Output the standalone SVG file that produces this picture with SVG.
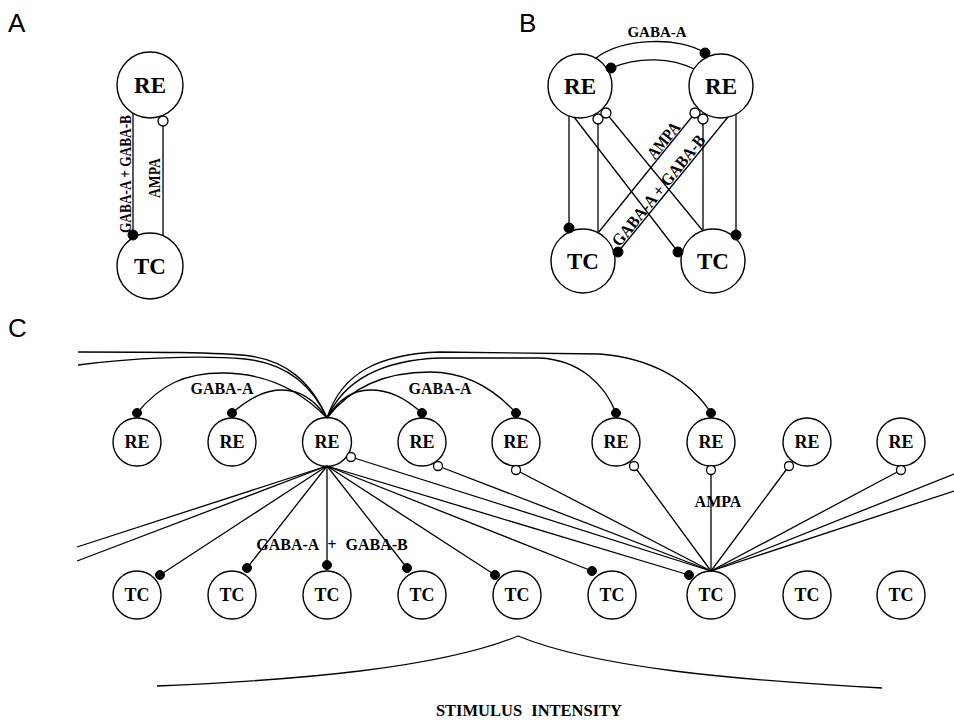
<svg xmlns="http://www.w3.org/2000/svg" width="954" height="720" viewBox="0 0 954 720">
<style>
.node circle{fill:#fff;stroke:#000;stroke-width:1.4}
.t{font-family:"Liberation Serif","Times New Roman",serif;font-weight:bold;text-anchor:middle;fill:#000}
.big{font-size:23px}
.sm{font-size:18px}
.lab{font-size:16px}
.rl{font-size:15px}
.rr{font-size:17px}
.letter{font-family:"Liberation Sans",Arial,sans-serif;font-size:26px;fill:#000}
#connectors path,#connectors line,#stimulus path{fill:none;stroke:#000;stroke-width:1.3}
.fd{fill:#000;stroke:#000;stroke-width:1}
.od{fill:#fff;stroke:#000;stroke-width:1.3}
</style>
<rect width="954" height="720" fill="#fff"/>

<g id="panel-letters">
<text class="letter" x="8" y="32">A</text>
<text class="letter" x="519" y="32">B</text>
<text class="letter" x="8" y="337">C</text>
</g>

<!-- Panel A nodes -->
<g id="A-RE" class="node"><circle cx="150" cy="85" r="33"/><text class="t big" x="150" y="93">RE</text></g>
<g id="A-TC" class="node"><circle cx="150" cy="266" r="33"/><text class="t big" x="150" y="274">TC</text></g>

<!-- Panel B nodes -->
<g id="B-RE1" class="node"><circle cx="580" cy="86" r="32"/><text class="t big" x="580" y="94">RE</text></g>
<g id="B-RE2" class="node"><circle cx="721" cy="86" r="32"/><text class="t big" x="721" y="94">RE</text></g>
<g id="B-TC1" class="node"><circle cx="583" cy="261" r="32"/><text class="t big" x="583" y="269">TC</text></g>
<g id="B-TC2" class="node"><circle cx="713" cy="261" r="32"/><text class="t big" x="713" y="269">TC</text></g>

<!-- Panel C nodes -->
<g id="C-RE1" class="node"><circle cx="137" cy="442" r="24"/><text class="t sm" x="137" y="448">RE</text></g>
<g id="C-RE2" class="node"><circle cx="232" cy="442" r="24"/><text class="t sm" x="232" y="448">RE</text></g>
<g id="C-RE3" class="node"><circle cx="327" cy="442" r="24.5"/><text class="t sm" x="327" y="448">RE</text></g>
<g id="C-RE4" class="node"><circle cx="422" cy="442" r="24"/><text class="t sm" x="422" y="448">RE</text></g>
<g id="C-RE5" class="node"><circle cx="516" cy="442" r="24"/><text class="t sm" x="516" y="448">RE</text></g>
<g id="C-RE6" class="node"><circle cx="616" cy="442" r="24"/><text class="t sm" x="616" y="448">RE</text></g>
<g id="C-RE7" class="node"><circle cx="711" cy="442" r="24"/><text class="t sm" x="711" y="448">RE</text></g>
<g id="C-RE8" class="node"><circle cx="807" cy="442" r="24"/><text class="t sm" x="807" y="448">RE</text></g>
<g id="C-RE9" class="node"><circle cx="901" cy="442" r="24"/><text class="t sm" x="901" y="448">RE</text></g>

<g id="C-TC1" class="node"><circle cx="137" cy="595" r="24"/><text class="t sm" x="137" y="601">TC</text></g>
<g id="C-TC2" class="node"><circle cx="232" cy="595" r="24"/><text class="t sm" x="232" y="601">TC</text></g>
<g id="C-TC3" class="node"><circle cx="327" cy="595" r="24"/><text class="t sm" x="327" y="601">TC</text></g>
<g id="C-TC4" class="node"><circle cx="422" cy="595" r="24"/><text class="t sm" x="422" y="601">TC</text></g>
<g id="C-TC5" class="node"><circle cx="517" cy="595" r="24"/><text class="t sm" x="517" y="601">TC</text></g>
<g id="C-TC6" class="node"><circle cx="612" cy="595" r="24"/><text class="t sm" x="612" y="601">TC</text></g>
<g id="C-TC7" class="node"><circle cx="711" cy="595" r="24"/><text class="t sm" x="711" y="601">TC</text></g>
<g id="C-TC8" class="node"><circle cx="807" cy="595" r="24"/><text class="t sm" x="807" y="601">TC</text></g>
<g id="C-TC9" class="node"><circle cx="901" cy="595" r="24"/><text class="t sm" x="901" y="601">TC</text></g>

<g id="connectors">
<!-- A -->
<line x1="133" y1="113" x2="133" y2="235"/>
<line x1="163" y1="121" x2="163" y2="236"/>
<!-- B -->
<path d="M596,58 C622,38 680,36 705,53"/>
<path d="M694,69 C672,58 640,56 611,68"/>
<line x1="569" y1="116" x2="569" y2="228"/>
<line x1="598" y1="233" x2="598" y2="119"/>
<line x1="574" y1="117" x2="678" y2="252"/>
<line x1="703" y1="231" x2="606" y2="113"/>
<line x1="728" y1="117" x2="618" y2="252"/>
<line x1="598" y1="233" x2="695" y2="113"/>
<line x1="703" y1="231" x2="703" y2="119"/>
<line x1="736" y1="114" x2="736" y2="235"/>
<!-- C: RE3 to other RE (GABA-A) -->
<path d="M327,418 C300,390 265,373 222,373 C185,373 160,385 137,413"/>
<path d="M327,418 C315,400 300,390 282,390 C265,390 250,398 232,413"/>
<path d="M327,418 C310,380 285,361 250,356 C220,352 150,352 78,352"/>
<path d="M327,418 C312,385 285,363 245,359 C200,355 130,358 78,365"/>
<path d="M327,418 C338,400 352,390 370,390 C390,390 405,398 422,413"/>
<path d="M327,418 C350,388 385,372 430,372 C468,372 495,390 516,413"/>
<path d="M327,418 C345,378 385,360 440,358 L540,358 C580,360 605,385 616,413"/>
<path d="M327,418 C342,372 380,354 440,352 L600,354 C650,358 690,380 711,413"/>
<!-- C: RE3 to TC (GABA-A + GABA-B) -->
<line x1="327" y1="466" x2="77" y2="547"/>
<line x1="327" y1="466" x2="77" y2="561"/>
<line x1="327" y1="466" x2="160" y2="575"/>
<line x1="327" y1="466" x2="247" y2="568"/>
<line x1="327" y1="466" x2="327" y2="565"/>
<line x1="327" y1="466" x2="407" y2="568"/>
<line x1="327" y1="466" x2="495" y2="575"/>
<line x1="327" y1="466" x2="592" y2="571"/>
<line x1="327" y1="466" x2="689" y2="575"/>
<!-- C: TC7 to RE (AMPA) -->
<line x1="711" y1="571" x2="351" y2="457"/>
<line x1="711" y1="571" x2="438" y2="466"/>
<line x1="711" y1="571" x2="516" y2="470"/>
<line x1="711" y1="571" x2="634" y2="466"/>
<line x1="711" y1="571" x2="711" y2="470"/>
<line x1="711" y1="571" x2="789" y2="466"/>
<line x1="711" y1="571" x2="901" y2="470"/>
<line x1="711" y1="571" x2="954" y2="474"/>
<line x1="711" y1="571" x2="954" y2="491"/>

<!-- synapse markers -->
<circle class="fd" cx="133" cy="235" r="5"/>
<circle class="od" cx="163" cy="121" r="5"/>

<circle class="fd" cx="705" cy="53" r="5"/>
<circle class="fd" cx="611" cy="68" r="5"/>
<circle class="fd" cx="569" cy="228" r="5"/>
<circle class="fd" cx="678" cy="252" r="5"/>
<circle class="fd" cx="618" cy="252" r="5"/>
<circle class="fd" cx="736" cy="235" r="5"/>
<circle class="od" cx="598" cy="119" r="5"/>
<circle class="od" cx="606" cy="113" r="5"/>
<circle class="od" cx="695" cy="113" r="5"/>
<circle class="od" cx="703" cy="119" r="5"/>

<circle class="fd" cx="137" cy="413" r="4.5"/>
<circle class="fd" cx="232" cy="413" r="4.5"/>
<circle class="fd" cx="422" cy="413" r="4.5"/>
<circle class="fd" cx="516" cy="413" r="4.5"/>
<circle class="fd" cx="616" cy="413" r="4.5"/>
<circle class="fd" cx="711" cy="413" r="4.5"/>

<circle class="fd" cx="160" cy="575" r="4.5"/>
<circle class="fd" cx="247" cy="568" r="4.5"/>
<circle class="fd" cx="327" cy="565" r="4.5"/>
<circle class="fd" cx="407" cy="568" r="4.5"/>
<circle class="fd" cx="495" cy="575" r="4.5"/>
<circle class="fd" cx="592" cy="571" r="4.5"/>
<circle class="fd" cx="689" cy="575" r="4.5"/>

<circle class="od" cx="351" cy="457" r="4.5"/>
<circle class="od" cx="438" cy="466" r="4.5"/>
<circle class="od" cx="516" cy="470" r="4.5"/>
<circle class="od" cx="634" cy="466" r="4.5"/>
<circle class="od" cx="711" cy="470" r="4.5"/>
<circle class="od" cx="789" cy="466" r="4.5"/>
<circle class="od" cx="901" cy="470" r="4.5"/>
</g>

<g id="labels">
<text class="t rr" transform="translate(131,174) rotate(-90)" textLength="118" lengthAdjust="spacingAndGlyphs">GABA-A + GABA-B</text>
<text class="t rr" transform="translate(160,178) rotate(-90)" textLength="40" lengthAdjust="spacingAndGlyphs">AMPA</text>
<text class="t rl" x="657" y="37">GABA-A</text>
<text class="t rr" transform="translate(668,144) rotate(-51)" textLength="42" lengthAdjust="spacingAndGlyphs">AMPA</text>
<text class="t rr" transform="translate(663,194) rotate(-51)" textLength="138" lengthAdjust="spacingAndGlyphs">GABA-A + GABA-B</text>
<text class="t lab" x="222" y="394">GABA-A</text>
<text class="t lab" x="440" y="394">GABA-A</text>
<text class="t lab" x="332" y="550" word-spacing="5">GABA-A + GABA-B</text>
<text class="t lab" x="718" y="507">AMPA</text>
<text class="t" x="529" y="716" font-size="16.5" word-spacing="5">STIMULUS INTENSITY</text>
</g>

<g id="stimulus">
<path d="M157,686 C300,680 440,668 518,636 C596,668 736,680 882,688"/>
</g>
</svg>
